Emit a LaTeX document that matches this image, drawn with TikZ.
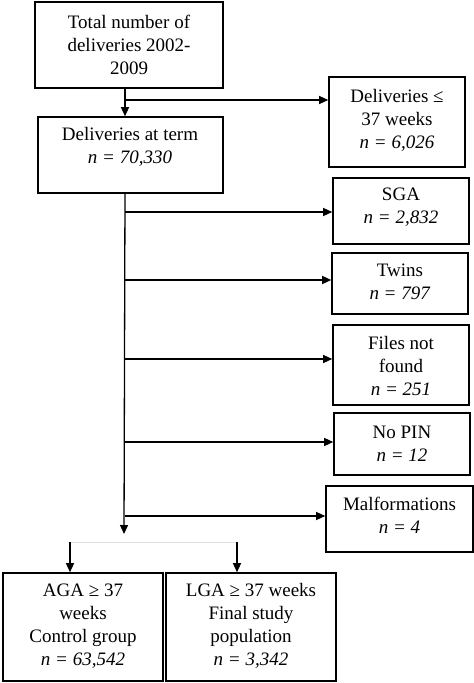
\documentclass[tikz,border=0pt]{standalone}
\usepackage{fontspec}
\setmainfont{Liberation Serif}
\usetikzlibrary{arrows.meta}
\begin{document}
\begin{tikzpicture}[x=1pt,y=-1pt,
  box/.style={draw=black, line width=1.6pt, inner sep=0pt},
  txt/.style={align=center, font=\fontsize{19}{23}\selectfont, inner sep=0pt},
  conn/.style={line width=1.3pt},
  arr/.style={conn, -{Triangle[length=9pt,width=8pt]}}]
\clip (0,0) rectangle (474,683);
\fill[white] (0,0) rectangle (474,683);
% boxes
\node[box, minimum width=188pt, minimum height=86pt] (total) at (129,45) {};
\node[box, minimum width=185pt, minimum height=76pt] (term) at (130.5,155) {};
\node[box, minimum width=136pt, minimum height=90pt] (pre) at (397,122) {};
\node[box, minimum width=136pt, minimum height=66pt] (sga) at (401,211) {};
\node[box, minimum width=136pt, minimum height=61pt] (twins) at (400,283.5) {};
\node[box, minimum width=136pt, minimum height=80pt] (files) at (401,365) {};
\node[box, minimum width=136pt, minimum height=62pt] (pin) at (402,444) {};
\node[box, minimum width=147pt, minimum height=66pt] (malf) at (399.5,519) {};
\node[box, minimum width=160pt, minimum height=108pt] (aga) at (83,627) {};
\node[box, minimum width=170pt, minimum height=108pt] (lga) at (251,627) {};
% texts
\node[txt] (ttotal) at (total) {Total number of\\deliveries 2002-\\2009};
\node[txt] (tterm) at (130,147) {Deliveries at term\\\textit{n = 70,330}};
\node[txt] (tpre) at (397,120) {Deliveries ≤\\37 weeks\\\textit{n = 6,026}};
\node[txt] (tsga) at (401,207.5) {SGA\\\textit{n = 2,832}};
\node[txt] (ttwins) at (400,281.5) {Twins\\\textit{n = 797}};
\node[txt] (tfiles) at (401,366) {Files not\\found\\\textit{n = 251}};
\node[txt] (tpin) at (402,443.5) {No PIN\\\textit{n = 12}};
\node[txt] (tmalf) at (399.5,515) {Malformations\\\textit{n = 4}};
\node[txt] (taga) at (83,626) {AGA ≥ 37\\weeks\\Control group\\\textit{n = 63,542}};
\node[txt] (tlga) at (251,626) {LGA ≥ 37 weeks\\Final study\\population\\\textit{n = 3,342}};
% connectors
\coordinate (t1) at (125,88);
\coordinate (b1) at (125,100);
\draw[arr] (t1) -- (t1 |- term.north);
\draw[arr] (b1) -- (b1 -| pre.west);
\coordinate (m0) at (125,193);
\coordinate (mend) at (124,534);
\draw[arr] (m0) -- (mend);
\coordinate (c2) at (125,212);
\coordinate (c3) at (125,280);
\coordinate (c4) at (125,359);
\coordinate (c5) at (125,442);
\coordinate (c6) at (125,516);
\draw[arr] (c2) -- (c2 -| sga.west);
\draw[arr] (c3) -- (c3 -| twins.west);
\draw[arr] (c4) -- (c4 -| files.west);
\draw[arr] (c5) -- (c5 -| pin.west);
\draw[arr] (c6) -- (c6 -| malf.west);
\coordinate (s1) at (70,542);
\coordinate (s2) at (237,542);
\draw[line width=0.6pt, black!12] (s1) -- (s2);
\draw[arr] (s1) -- (s1 |- aga.north);
\draw[arr] (s2) -- (s2 |- lga.north);
\end{tikzpicture}
\end{document}
